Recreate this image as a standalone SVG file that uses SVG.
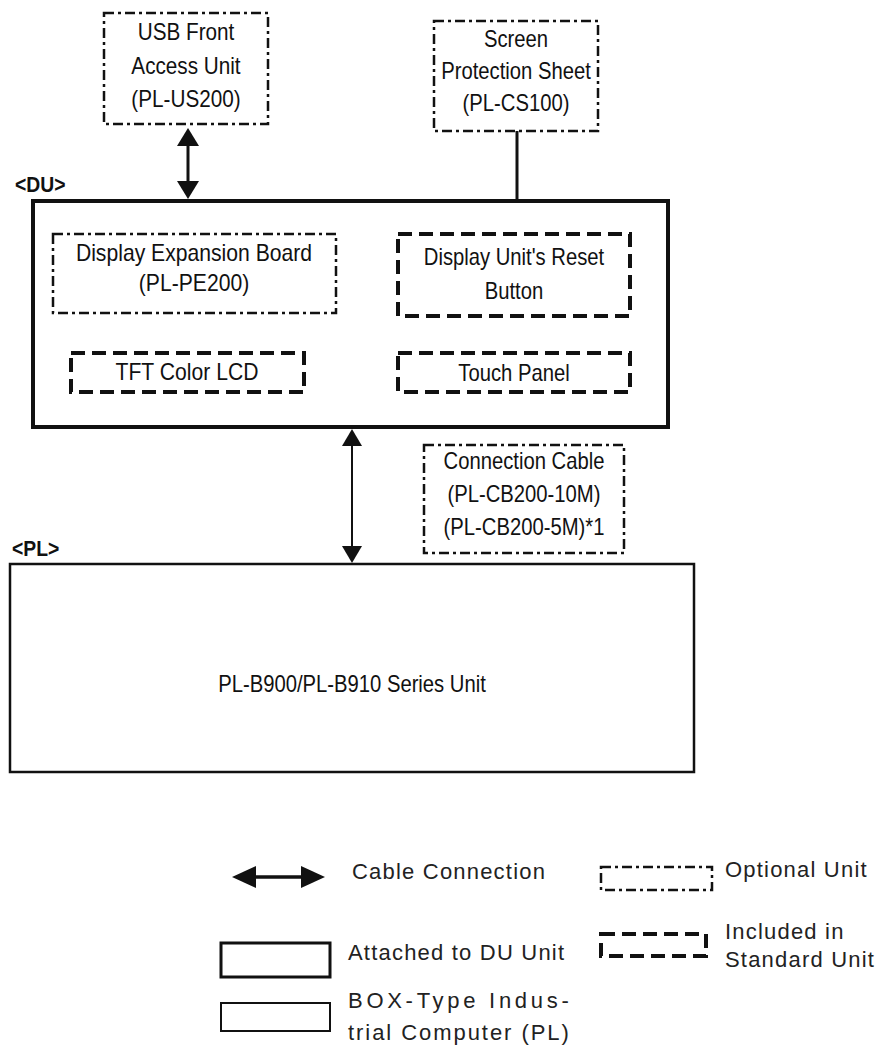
<svg xmlns="http://www.w3.org/2000/svg" width="882" height="1046" viewBox="0 0 882 1046">
<style>
text{font-family:"Liberation Sans",Arial,sans-serif;fill:#111}
.t{font-size:23px;text-anchor:middle}
.lbl{font-size:22px;font-weight:bold}
.lg{font-size:22px;letter-spacing:1.2px;fill:#222}
.opt{fill:none;stroke:#111;stroke-width:2.5;stroke-dasharray:10 4 3 4}
.std{fill:none;stroke:#111;stroke-width:4;stroke-dasharray:14 7}
.solid{fill:none;stroke:#111}
.ln{stroke:#111;fill:none}
.ah{fill:#111;stroke:none}
</style>
<rect width="882" height="1046" fill="#fff"/>
<g id="usb">
<rect class="opt" x="104" y="13" width="164" height="111"/>
<text class="t" transform="translate(186,40) scale(0.9,1)">USB Front</text>
<text class="t" transform="translate(186,74) scale(0.9,1)">Access Unit</text>
<text class="t" transform="translate(186,107) scale(0.9,1)">(PL-US200)</text>
</g>
<g id="screen">
<rect class="opt" x="434" y="21" width="164" height="110"/>
<text class="t" transform="translate(516,47) scale(0.88,1)">Screen</text>
<text class="t" transform="translate(516,79) scale(0.88,1)">Protection Sheet</text>
<text class="t" transform="translate(516,111) scale(0.88,1)">(PL-CS100)</text>
</g>
<g id="du">
<text class="lbl" transform="translate(15,192) scale(0.88,1)">&lt;DU&gt;</text>
<rect class="solid" x="33" y="201" width="635" height="226" stroke-width="4"/>
</g>
<g id="expansion">
<rect class="opt" x="53" y="234" width="283" height="79"/>
<text class="t" transform="translate(194,261) scale(0.92,1)">Display Expansion Board</text>
<text class="t" transform="translate(194,291) scale(0.92,1)">(PL-PE200)</text>
</g>
<g id="reset">
<rect class="std" x="398" y="234" width="232" height="82"/>
<text class="t" transform="translate(514,265) scale(0.88,1)">Display Unit's Reset</text>
<text class="t" transform="translate(514,299) scale(0.88,1)">Button</text>
</g>
<g id="tft">
<rect class="std" x="71" y="353" width="233" height="39"/>
<text class="t" transform="translate(187,380) scale(0.92,1)">TFT Color LCD</text>
</g>
<g id="touch">
<rect class="std" x="398" y="353" width="232" height="39"/>
<text class="t" transform="translate(514,381) scale(0.88,1)">Touch Panel</text>
</g>
<g id="cable">
<rect class="opt" x="424" y="445" width="200" height="108"/>
<text class="t" transform="translate(524,469) scale(0.88,1)">Connection Cable</text>
<text class="t" transform="translate(524,502) scale(0.88,1)">(PL-CB200-10M)</text>
<text class="t" transform="translate(524,535) scale(0.88,1)">(PL-CB200-5M)*1</text>
</g>
<g id="pl">
<text class="lbl" transform="translate(12,556) scale(0.88,1)">&lt;PL&gt;</text>
<rect class="solid" x="10" y="564" width="684" height="208" stroke-width="2.5"/>
<text class="t" transform="translate(352,692) scale(0.88,1)">PL-B900/PL-B910 Series Unit</text>
</g>
<g id="connectors">
<line class="ln" x1="188" y1="144" x2="188" y2="183" stroke-width="3"/>
<polygon class="ah" points="188,128 199,146 177,146"/>
<polygon class="ah" points="188,199 199,181 177,181"/>
<line class="ln" x1="517" y1="131" x2="517" y2="200" stroke-width="3"/>
<line class="ln" x1="352" y1="445" x2="352" y2="547" stroke-width="2"/>
<polygon class="ah" points="352,429 362,446 342,446"/>
<polygon class="ah" points="352,563 362,546 342,546"/>
</g>
<g id="legend">
<line class="ln" x1="255" y1="877" x2="302" y2="877" stroke-width="3.5"/>
<polygon class="ah" points="232,877 256,866 256,888"/>
<polygon class="ah" points="325,877 301,866 301,888"/>
<text class="lg" x="352" y="879">Cable Connection</text>
<rect class="solid" x="221" y="943" width="109" height="34" stroke-width="3"/>
<text class="lg" x="348" y="960">Attached to DU Unit</text>
<rect class="solid" x="221" y="1003" width="109" height="28" stroke-width="2"/>
<text class="lg" x="348" y="1008" textLength="222" lengthAdjust="spacing">BOX-Type Indus-</text>
<text class="lg" x="348" y="1040" textLength="222" lengthAdjust="spacing">trial Computer (PL)</text>
<rect class="opt" x="601" y="867" width="111" height="23" stroke-width="2"/>
<text class="lg" x="725" y="877">Optional Unit</text>
<rect class="std" x="601" y="934" width="105" height="22" stroke-width="3.5"/>
<text class="lg" x="725" y="939">Included in</text>
<text class="lg" x="725" y="967">Standard Unit</text>
</g>
</svg>
